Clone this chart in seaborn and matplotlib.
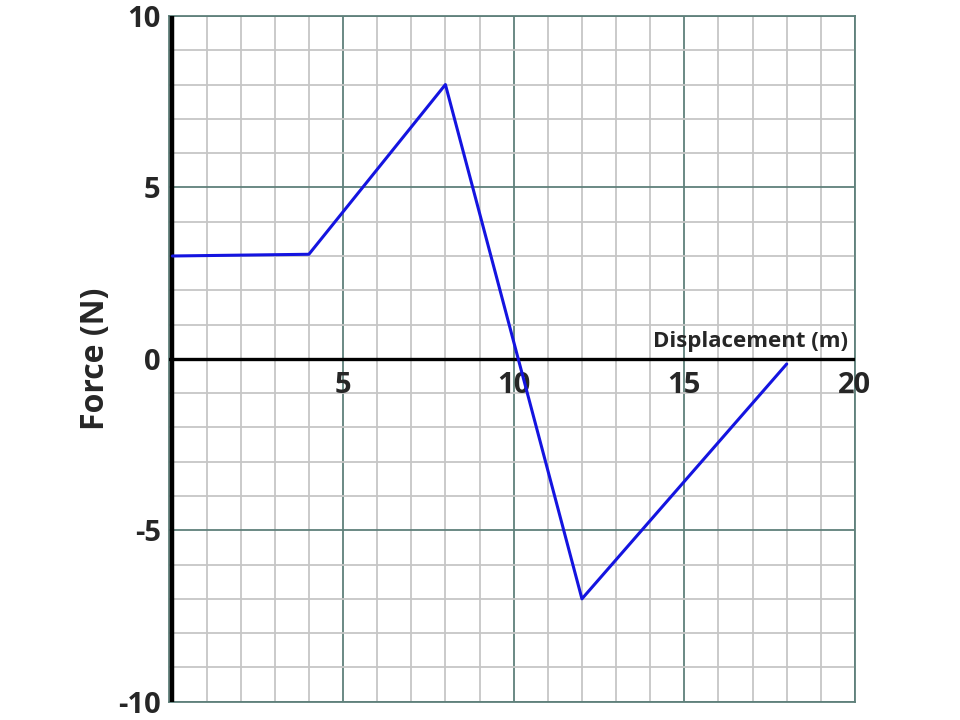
import numpy as np
import pandas as pd
import seaborn as sns
import matplotlib.pyplot as plt

# force vs displacement readings
displacement = [0, 4, 8, 12, 18]
force = [3, 3.05, 8, -7, -0.15]

x_labels = [5, 10, 15, 20]
y_ticks = [-10, -5, 0, 5, 10]

sns.set_style('white')
plt.rcParams['font.family'] = ['Open Sans', 'DejaVu Sans']

fig = plt.figure(figsize=(9.6, 7.2), dpi=100)
ax = fig.add_axes([0.176, 0.0254, 0.7146, 0.9524])

df = pd.DataFrame({'Displacement (m)': displacement, 'Force (N)': force})
sns.lineplot(data=df, x='Displacement (m)', y='Force (N)', ax=ax,
             color='#1414e0', linewidth=2.2, sort=False, zorder=4)

ax.set_xlim(-0.1, 20)
ax.set_ylim(-10, 10)

# grid paper: light lines every unit, darker every 5
ax.set_xticks(range(0, 21, 5))
ax.set_xticks(range(0, 21), minor=True)
ax.set_yticks(y_ticks)
ax.set_yticks(range(-10, 11), minor=True)
ax.grid(which='minor', color='#c6c6c6', linewidth=1.3)
ax.grid(which='major', color='#5f807b', linewidth=1.3)
ax.set_axisbelow(True)
for s in ax.spines.values():
    s.set_color('#5f807b')
    s.set_linewidth(1.3)

ax.tick_params(which='both', length=0)
ax.set_xticklabels([])
ax.set_xlabel('')
ax.set_yticklabels([str(v) for v in y_ticks], fontsize=21, fontweight='bold')
ax.tick_params(axis='y', pad=6)

# axes through the origin
ax.axhline(0, color='black', linewidth=2.4, zorder=3)
ax.axvline(0, color='black', linewidth=3.2, zorder=3)

for v in x_labels:
    ax.text(v, -0.35, str(v), ha='center', va='top', fontsize=21, fontweight='bold')
ax.text(19.8, 0.35, 'Displacement (m)', ha='right', va='baseline',
        fontsize=16, fontweight='bold')

ax.set_ylabel('Force (N)', fontsize=23, fontweight='bold', labelpad=4)

fig.savefig('out.png', dpi=100)
